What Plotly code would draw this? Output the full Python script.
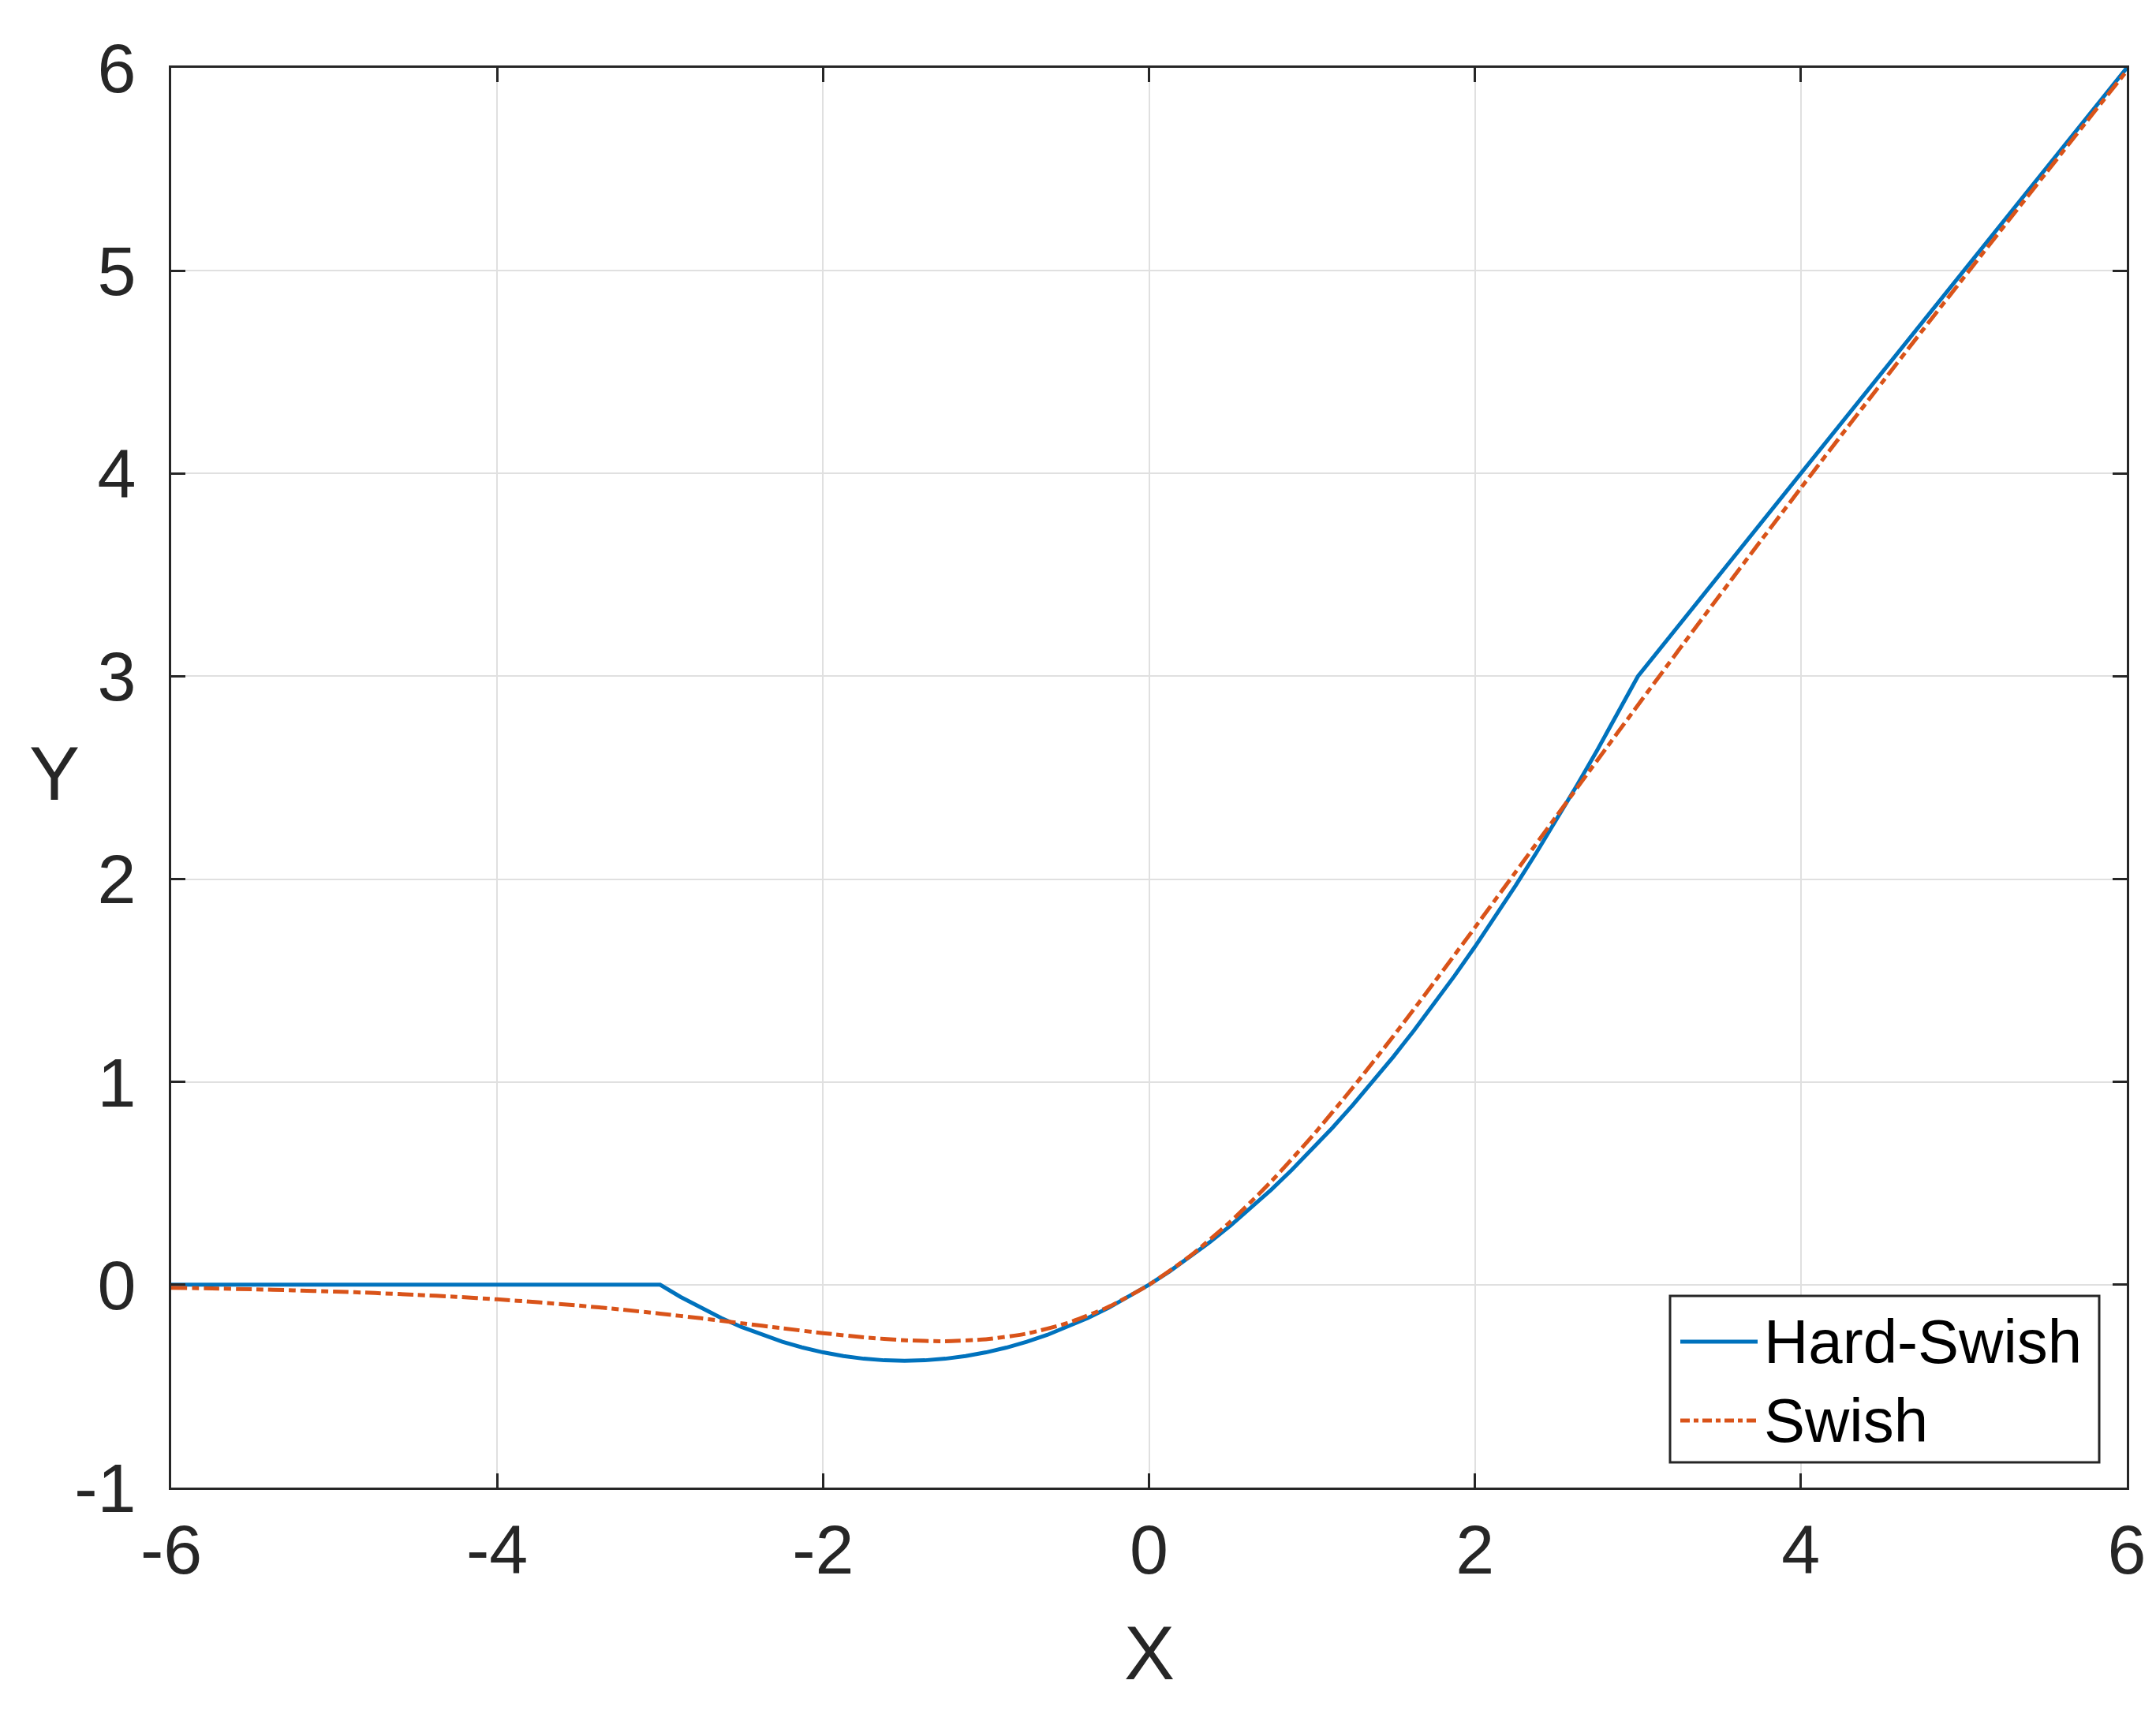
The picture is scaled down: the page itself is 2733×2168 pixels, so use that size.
import plotly.graph_objects as go

# ---- data ----
hs_x = [-6.0,
        -3.0, -2.875, -2.75, -2.625, -2.5, -2.375, -2.25, -2.125, -2.0, -1.875, -1.75, -1.625,
        -1.5, -1.375, -1.25, -1.125, -1.0, -0.875, -0.75, -0.625, -0.5, -0.375, -0.25, -0.125,
        0.0, 0.125, 0.25, 0.375, 0.5, 0.625, 0.75, 0.875, 1.0, 1.125, 1.25, 1.375,
        1.5, 1.625, 1.75, 1.875, 2.0, 2.125, 2.25, 2.375, 2.5, 2.625, 2.75, 2.875,
        3.0, 6.0]
hard_swish = [0.0,
              0.0, -0.0599, -0.1146, -0.1641, -0.2083, -0.2474, -0.2813, -0.3099, -0.3333, -0.3516, -0.3646, -0.3724,
              -0.375, -0.3724, -0.3646, -0.3516, -0.3333, -0.3099, -0.2813, -0.2474, -0.2083, -0.1641, -0.1146, -0.0599,
              0.0, 0.0651, 0.1354, 0.2109, 0.2917, 0.3776, 0.4688, 0.5651, 0.6667, 0.7734, 0.8854, 1.0026,
              1.125, 1.2526, 1.3854, 1.5234, 1.6667, 1.8151, 1.9688, 2.1276, 2.2917, 2.4609, 2.6354, 2.8151,
              3.0, 6.0]

sw_x = [-6.0, -5.75, -5.5, -5.25, -5.0, -4.75, -4.5, -4.25, -4.0, -3.75, -3.5, -3.25,
        -3.0, -2.75, -2.5, -2.25, -2.0, -1.75, -1.5, -1.25, -1.0, -0.75, -0.5, -0.25,
        0.0, 0.25, 0.5, 0.75, 1.0, 1.25, 1.5, 1.75, 2.0, 2.25, 2.5, 2.75,
        3.0, 3.25, 3.5, 3.75, 4.0, 4.25, 4.5, 4.75, 5.0, 5.25, 5.5, 5.75, 6.0]
swish = [-0.0148, -0.0182, -0.0224, -0.0274, -0.0335, -0.0407, -0.0495, -0.0596, -0.0719, -0.0862, -0.1026, -0.1213,
         -0.1423, -0.1652, -0.1896, -0.2145, -0.2384, -0.2591, -0.2736, -0.2784, -0.2689, -0.2406, -0.1888, -0.1095,
         0.0, 0.1405, 0.3112, 0.5094, 0.7311, 0.9716, 1.2264, 1.4909, 1.7616, 2.0355, 2.3104, 2.5848,
         2.8577, 3.1287, 3.3974, 3.6638, 3.9281, 4.1904, 4.4505, 4.7093, 4.9665, 5.2226, 5.4776, 5.7318, 5.9852]

series_names = ["Hard-Swish", "Swish"]
x_ticks = [-6, -4, -2, 0, 2, 4, 6]
y_ticks = [-1, 0, 1, 2, 3, 4, 5, 6]

BLUE = "#0072BD"
ORANGE = "#D95319"
DASHDOT = "20px,6px,9px,6px"
FONT = "Liberation Sans, Arial, sans-serif"
LW = 5

fig = go.Figure()
fig.add_trace(go.Scatter(x=hs_x, y=hard_swish, mode="lines", name=series_names[0],
                         line=dict(color=BLUE, width=LW)))
fig.add_trace(go.Scatter(x=sw_x, y=swish, mode="lines", name=series_names[1],
                         line=dict(color=ORANGE, width=LW, dash=DASHDOT, shape="spline", smoothing=0.6)))

axis_common = dict(
    showline=True, linecolor="#262626", linewidth=3, mirror="ticks",
    ticks="inside", ticklen=18, tickwidth=3, tickcolor="#262626",
    showgrid=True, gridcolor="#e0e0e0", gridwidth=2,
    zeroline=False,
    tickfont=dict(family=FONT, size=88, color="#262626"),
)

fig.update_xaxes(range=[-6, 6], tickvals=x_ticks, ticktext=[str(v) for v in x_ticks],
                 ticklabelstandoff=0, **axis_common)
fig.update_yaxes(range=[-1, 6], tickvals=y_ticks, ticktext=[str(v) for v in y_ticks],
                 ticklabelstandoff=24, **axis_common)

W, H = 2733, 2168
L, R, T, B = 209, 45, 78, 290
pw, ph = W - L - R, H - T - B


def px(xp):
    return (xp - L) / pw


def py(yp):
    return (H - B - yp) / ph


# axis titles
fig.add_annotation(text="X", xref="paper", yref="paper", x=px(1449), y=py(2087),
                   showarrow=False, xanchor="center", yanchor="middle",
                   font=dict(family=FONT, size=96, color="#262626"))
fig.add_annotation(text="Y", xref="paper", yref="paper", x=px(61), y=py(972),
                   showarrow=False, xanchor="center", yanchor="middle",
                   font=dict(family=FONT, size=96, color="#262626"))

# legend box (drawn manually to match sample length / spacing)
fig.add_shape(type="rect", xref="paper", yref="paper",
              x0=px(2109), x1=px(2653), y0=py(1846), y1=py(1635),
              line=dict(color="#262626", width=3), fillcolor="white", layer="above")
fig.add_shape(type="line", xref="paper", yref="paper",
              x0=px(2122), x1=px(2220), y0=py(1693), y1=py(1693),
              line=dict(color=BLUE, width=LW), layer="above")
fig.add_shape(type="line", xref="paper", yref="paper",
              x0=px(2122), x1=px(2220), y0=py(1793), y1=py(1793),
              line=dict(color=ORANGE, width=LW, dash="12px,5px,6px,5px"), layer="above")
fig.add_annotation(text=series_names[0], xref="paper", yref="paper", x=px(2226), y=py(1693),
                   showarrow=False, xanchor="left", yanchor="middle",
                   font=dict(family=FONT, size=78, color="black"))
fig.add_annotation(text=series_names[1], xref="paper", yref="paper", x=px(2226), y=py(1793),
                   showarrow=False, xanchor="left", yanchor="middle",
                   font=dict(family=FONT, size=78, color="black"))

fig.update_layout(
    width=W, height=H,
    margin=dict(l=L, r=R, t=T, b=B),
    paper_bgcolor="white", plot_bgcolor="white",
    showlegend=False,
    font=dict(family=FONT, color="#262626"),
)

fig.write_html("out.html")
